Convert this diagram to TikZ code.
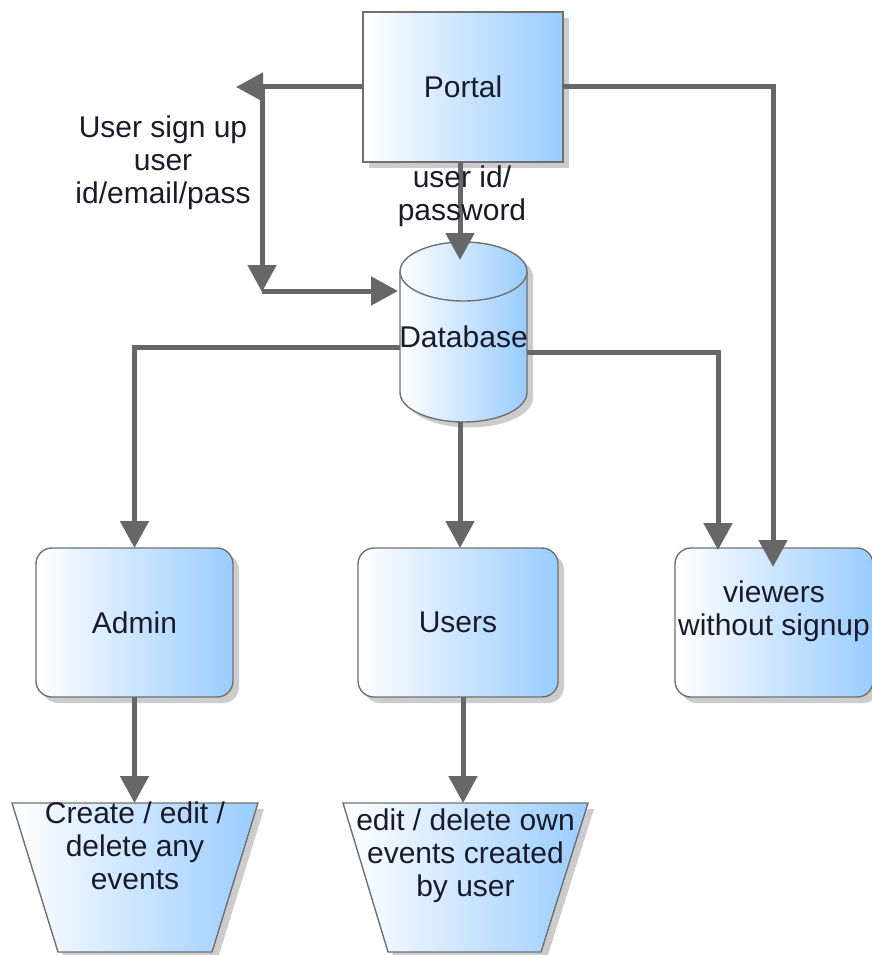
\documentclass[tikz,border=0pt]{standalone}
\usepackage{fontspec}
\setmainfont{Liberation Sans}
\usetikzlibrary{arrows.meta,calc}
\definecolor{lc}{HTML}{676767}
\definecolor{fb}{HTML}{99CCFF}
\definecolor{bd}{HTML}{707070}
\definecolor{sh}{HTML}{CCCCCC}
\definecolor{tx}{HTML}{1A1A2A}
\begin{document}
\begin{tikzpicture}[x=1pt,y=1pt,
  frame/.style={draw=bd,line width=1.4pt,left color=white,right color=fb},
  shadowfill/.style={fill=sh},
  txt/.style={font=\fontsize{30}{33}\selectfont,text=tx,align=center,inner sep=0pt},
  holder/.style={inner sep=0pt,outer sep=0pt},
  conn/.style={draw=lc,line width=5pt},
  arr/.style={conn,-{Triangle[length=27pt,width=28pt]}}
]
\useasboundingbox (0,0) rectangle (871,-955);

% ---------- shadows ----------
\fill[shadowfill] (369,-18) rectangle (569,-168);
\fill[shadowfill] (406,-277) -- (406,-398) arc (180:360:63.5 and 29.5) -- (533,-277) arc (0:180:63.5 and 29.5) -- cycle;
\fill[shadowfill,rounded corners=16pt] (42,-554) rectangle (239,-703);
\fill[shadowfill,rounded corners=16pt] (364,-554) rectangle (564,-703);
\fill[shadowfill,rounded corners=16pt] (681,-554) rectangle (879,-703);
\fill[shadowfill] (18,-809) -- (264,-809) -- (218,-958) -- (64,-958) -- cycle;
\fill[shadowfill] (349,-809) -- (594,-809) -- (547,-958) -- (394,-958) -- cycle;

% ---------- shapes ----------
\node[frame,holder,minimum width=200pt,minimum height=150pt,txt] (portal) at (463,-87) {Portal};

% database cylinder
\shade[frame] (400,-271.5) -- (400,-392.5) arc (180:360:63.5 and 29.5) -- (527,-271.5) arc (0:180:63.5 and 29.5) -- cycle;
\draw[draw=bd,line width=1.4pt] (400,-271.5) arc (180:360:63.5 and 29.5);
\node[holder,minimum width=127pt,minimum height=180pt] (db) at (463.5,-332) {};
\node[txt] at (463.5,-337) {Database};

\node[frame,holder,rounded corners=16pt,minimum width=197pt,minimum height=149pt,txt] (admin) at (134.5,-622.5) {Admin};
\node[frame,holder,rounded corners=16pt,minimum width=200pt,minimum height=149pt,txt] (users) at (458,-622.5) {Users};
\node[frame,holder,rounded corners=16pt,minimum width=198pt,minimum height=149pt] (viewers) at (774,-622.5) {};
\node[txt] at (774,-611) {viewers\\without signup};

% trapezoids
\shade[frame] (12,-803) -- (258,-803) -- (212,-952) -- (58,-952) -- cycle;
\node[holder,minimum width=246pt,minimum height=149pt] (t1) at (135,-877.5) {};
\node[txt] at (135,-845.5) {Create / edit /\\delete any\\events};

\shade[frame] (343,-803) -- (588,-803) -- (541,-952) -- (388,-952) -- cycle;
\node[holder,minimum width=245pt,minimum height=149pt] (t2) at (465.5,-877.5) {};
\node[txt] at (465.5,-855.5) {edit / delete own\\events created\\by user};

% ---------- connectors ----------
\coordinate (lefttip) at (236,-87);
\coordinate (su) at (262,-87);
\coordinate (sd) at (262,-292);
\coordinate (dbtop) at (460,-260);

\draw[arr] (portal.west) -- (lefttip);
\draw[arr] (su) -- (sd);
\draw[arr] ([yshift=1pt]sd) -- ([yshift=1pt,xshift=-2pt]sd -| db.west);
\draw[arr] ([xshift=-3pt]portal.south) -- (dbtop);

\draw[arr] ([yshift=-15pt]db.west) -| (admin.north);
\draw[arr] (db.south -| dbtop) -- (dbtop |- users.north);
\draw[arr] ([yshift=-20pt]db.east) -| ([xshift=-56pt,yshift=-2pt]viewers.north);
\draw[arr] (portal.east) -| ([xshift=-1pt,yshift=-19pt]viewers.north);

\draw[arr] (admin.south) -- (admin.south |- t1.north);
\draw[arr] ([xshift=5pt]users.south) -- ([xshift=5pt]users.south |- t2.north);

% ---------- labels ----------
\node[txt] at (163,-163) {User sign up\\user\\id/email/pass};
\node[txt] at (462,-196) {user id/\\password};
\end{tikzpicture}
\end{document}
